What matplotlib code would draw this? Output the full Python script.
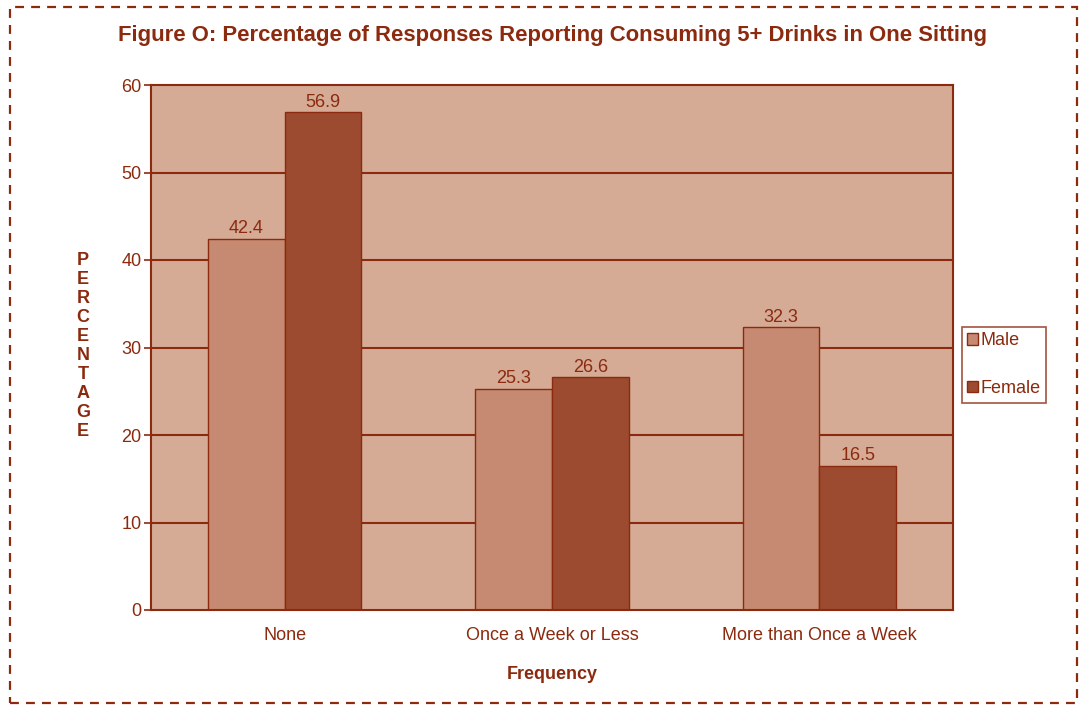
import numpy as np
import matplotlib
matplotlib.use("Agg")
import matplotlib.pyplot as plt
from matplotlib.patches import Rectangle, Patch

# Data
categories = ["None", "Once a Week or Less", "More than Once a Week"]
male = [42.4, 25.3, 32.3]
female = [56.9, 26.6, 16.5]
yticks = [0, 10, 20, 30, 40, 50, 60]

# Colours
dark = "#8B2A0E"
bg = "#D5AB96"
c_male = "#C58A71"
c_female = "#9C4B30"

plt.rcParams['font.family'] = ['Liberation Sans', 'DejaVu Sans']
fs = 13

fig = plt.figure(figsize=(10.82, 7.05), dpi=100)
W, H = 1082, 705
ax = fig.add_axes([151 / W, 1 - 610 / H, (953 - 151) / W, (610 - 85) / H])

ax.set_facecolor(bg)
x = np.arange(len(categories))
w = 0.287
for yv in yticks[1:-1]:
    ax.axhline(yv, color=dark, lw=1.5, zorder=1)
ax.bar(x - w / 2, male, w, color=c_male, edgecolor=dark, lw=1, zorder=2)
ax.bar(x + w / 2, female, w, color=c_female, edgecolor=dark, lw=1, zorder=2)

for xi, v in zip(x - w / 2, male):
    ax.text(xi, v + 1.15, f"{v}", ha="center", va="center", color=dark, fontsize=fs)
for xi, v in zip(x + w / 2, female):
    ax.text(xi, v + 1.15, f"{v}", ha="center", va="center", color=dark, fontsize=fs)

ax.set_xlim(-0.5, 2.5)
ax.set_ylim(0, 60)
ax.set_yticks(yticks)
ax.set_xticks(x)
ax.set_xticklabels(categories)
ax.tick_params(axis="y", colors=dark, labelsize=fs, length=5, width=1.2, pad=2)
ax.tick_params(axis="x", colors=dark, labelsize=fs, length=0, pad=12)
for s in ax.spines.values():
    s.set_color(dark)
    s.set_linewidth(1.5)

ax.set_xlabel("Frequency", color=dark, fontsize=fs, fontweight="bold", labelpad=16)

# Stacked vertical y label
fig.text(83 / W, 1 - 346 / H, "\n".join("PERCENTAGE"), ha="center", va="center",
         color=dark, fontsize=fs, fontweight="bold", linespacing=1.16)

fig.text(552 / W, 1 - 35 / H,
         "Figure O: Percentage of Responses Reporting Consuming 5+ Drinks in One Sitting",
         ha="center", va="center", color=dark, fontsize=15.9, fontweight="bold")

handles = [Patch(facecolor=c_male, edgecolor=dark, label="Male"),
           Patch(facecolor=c_female, edgecolor=dark, label="Female")]
leg = fig.legend(handles=handles, loc="upper left",
                 bbox_to_anchor=(962 / W, 1 - 327 / H), frameon=True,
                 fontsize=fs, handlelength=0.6, handleheight=0.6,
                 handletextpad=0.1, borderpad=0.3, labelspacing=1.7,
                 borderaxespad=0, fancybox=False)
leg.get_frame().set_edgecolor(dark)
leg.get_frame().set_linewidth(1.2)
for t in leg.get_texts():
    t.set_color(dark)

# Dashed outer border
fig.patches.append(Rectangle((10 / W, 1 - 703 / H), (1077 - 10) / W, (703 - 7) / H,
                             transform=fig.transFigure, fill=False,
                             edgecolor=dark, lw=1.6, ls=(0, (4, 3.2))))

fig.savefig("out.png", dpi=100)
